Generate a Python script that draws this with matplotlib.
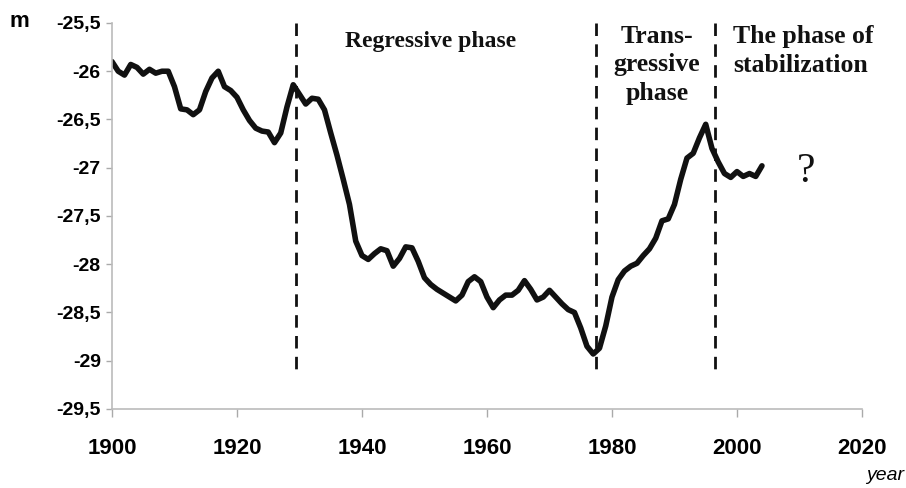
import numpy as np
import matplotlib
matplotlib.use('Agg')
import matplotlib.pyplot as plt

# sea level
years = np.arange(1900, 2005)
level = [-25.90, -26.00, -26.04, -25.93, -25.96, -26.03, -25.98, -26.02, -26.00, -26.00,
         -26.16, -26.39, -26.40, -26.45, -26.40, -26.21, -26.07, -26.00, -26.16, -26.20,
         -26.27, -26.40, -26.51, -26.59, -26.62, -26.63, -26.74, -26.64, -26.37, -26.14,
         -26.24, -26.34, -26.28, -26.29, -26.40, -26.64, -26.87, -27.12, -27.38, -27.76,
         -27.91, -27.95, -27.89, -27.84, -27.86, -28.02, -27.94, -27.82, -27.83, -27.97,
         -28.14, -28.21, -28.26, -28.30, -28.34, -28.38, -28.32, -28.18, -28.13, -28.18,
         -28.34, -28.45, -28.37, -28.32, -28.32, -28.27, -28.17, -28.26, -28.37, -28.34,
         -28.27, -28.34, -28.41, -28.47, -28.50, -28.66, -28.85, -28.93, -28.87, -28.64,
         -28.34, -28.16, -28.07, -28.02, -27.99, -27.91, -27.84, -27.73, -27.55, -27.53,
         -27.38, -27.12, -26.90, -26.85, -26.69, -26.55, -26.80, -26.94, -27.06, -27.10,
         -27.04, -27.09, -27.06, -27.09, -26.98]

phase_bounds = [1929.5, 1977.5, 1996.5]
yticks = [-25.5, -26, -26.5, -27, -27.5, -28, -28.5, -29, -29.5]
ytick_labels = ['-25,5', '-26', '-26,5', '-27', '-27,5', '-28', '-28,5', '-29', '-29,5']
xticks = [1900, 1920, 1940, 1960, 1980, 2000, 2020]

fig = plt.figure(figsize=(9.06, 4.88), dpi=100)
ax = fig.add_axes([0.1236, 0.1619, 0.8278, 0.791])

ax.plot(years, level, color='#111111', lw=4, solid_joinstyle='round', solid_capstyle='round')
for b in phase_bounds:
    ax.plot([b, b], [-25.5, -29.1], color='#111111', lw=2, ls=(0, (4.5, 3)))

ax.set_xlim(1900, 2020)
ax.set_ylim(-29.5, -25.5)
ax.set_xticks(xticks)
ax.set_yticks(yticks)
ax.set_yticklabels(ytick_labels)
for lab in ax.get_xticklabels():
    lab.set_fontfamily('Liberation Sans')
    lab.set_fontweight('bold')
    lab.set_fontsize(16)
for lab in ax.get_yticklabels():
    lab.set_fontfamily('Liberation Sans')
    lab.set_fontweight('bold')
    lab.set_fontsize(14)
ax.tick_params(axis='x', direction='out', length=6, width=1, color='#aaaaaa', pad=15)
ax.tick_params(axis='y', direction='out', length=4, width=1, color='#aaaaaa', pad=4)
for s in ['top', 'right']:
    ax.spines[s].set_visible(False)
for s in ['left', 'bottom']:
    ax.spines[s].set_color('#bbbbbb')
    ax.spines[s].set_linewidth(1.2)

serif = dict(family='Liberation Serif', fontweight='bold', color='#111111')
ax.text(1951, -25.69, 'Regressive phase', ha='center', va='center', fontsize=17, **serif)
ax.text(1987.2, -25.52, 'Trans-\ngressive\nphase', ha='center', va='top', linespacing=1.3,
        fontsize=18.5, **serif)
ax.text(1999.4, -25.52, 'The phase of\nstabilization', ha='left', va='top', linespacing=1.35,
        fontsize=18.5, **serif)
ax.text(2011, -27.04, '?', ha='center', va='center', family='Liberation Serif', fontsize=30, color='#111111')

fig.text(0.011, 0.955, 'm', family='Liberation Sans', fontweight='bold', fontsize=16, ha='left', va='center')
fig.text(0.998, 0.025, 'year', family='Liberation Sans', style='italic', fontsize=14, ha='right', va='center')

fig.savefig('out.png', dpi=100)
